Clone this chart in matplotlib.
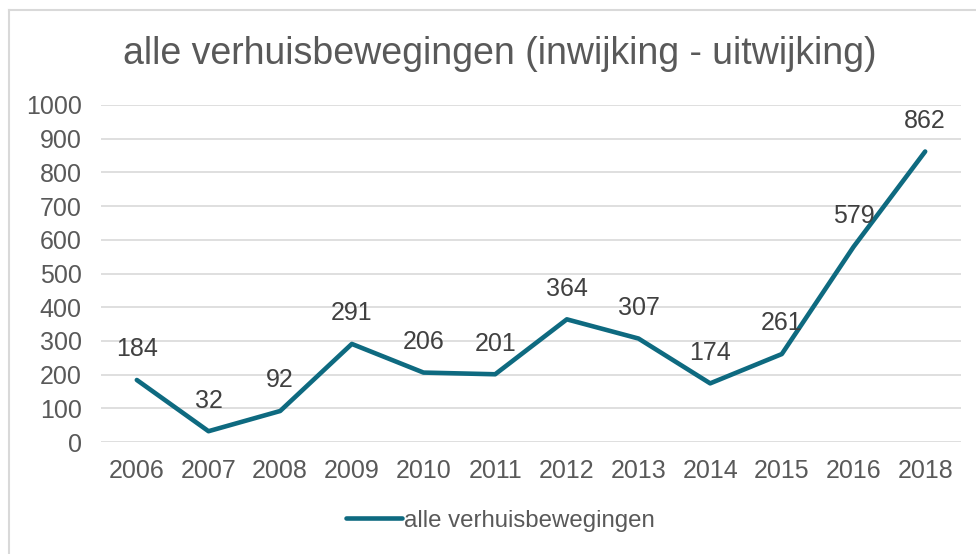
import matplotlib
matplotlib.use("Agg")
import matplotlib.pyplot as plt
from matplotlib.lines import Line2D

plt.rcParams['font.family'] = ['Liberation Sans', 'DejaVu Sans']

# data (note: no 2017 in the source)
years = ['2006', '2007', '2008', '2009', '2010', '2011',
         '2012', '2013', '2014', '2015', '2016', '2018']
saldo = [184, 32, 92, 291, 206, 201, 364, 307, 174, 261, 579, 862]
yticks = [0, 100, 200, 300, 400, 500, 600, 700, 800, 900, 1000]

line_col = '#0E6A80'
grid_col = '#D9D9D9'
txt_col = '#595959'
lbl_col = '#404040'

fig = plt.figure(figsize=(9.76, 5.54), dpi=100)
ax = fig.add_axes([101 / 976, 112 / 554, 860 / 976, 337 / 554])

x = list(range(len(years)))
ax.plot(x, saldo, color=line_col, lw=3.3, solid_capstyle='round',
        solid_joinstyle='round', label='alle verhuisbewegingen', zorder=3)

for xi, v in zip(x, saldo):
    ax.annotate(str(v), xy=(xi, v), xytext=(0, 22), textcoords='offset points',
                ha='center', va='center', fontsize=18, color=lbl_col)

ax.set_xlim(-0.5, len(years) - 0.5)
ax.set_ylim(0, 1000)
ax.set_xticks(x)
ax.set_xticklabels(years)
ax.set_yticks(yticks)
ax.tick_params(axis='both', length=0, labelsize=18, labelcolor=txt_col)
ax.tick_params(axis='x', pad=12)
ax.tick_params(axis='y', pad=14)
ax.yaxis.grid(True, color=grid_col, lw=1.2)
ax.set_axisbelow(True)
for s in ax.spines.values():
    s.set_visible(False)

fig.text(0.512, 0.903, 'alle verhuisbewegingen (inwijking - uitwijking)',
         ha='center', va='center', fontsize=27, color=txt_col)

leg = fig.legend(loc='center', bbox_to_anchor=(0.513, 0.06), frameon=False,
                 fontsize=17.3, handlelength=2.3, handletextpad=0.1)
for t in leg.get_texts():
    t.set_color(txt_col)

# chart frame (only left and top edges are visible in the crop)
fig.add_artist(Line2D([8.5 / 976, 8.5 / 976], [0, 1 - 10 / 554],
                      transform=fig.transFigure, color=grid_col, lw=1.5))
fig.add_artist(Line2D([8.5 / 976, 1], [1 - 10 / 554, 1 - 10 / 554],
                      transform=fig.transFigure, color=grid_col, lw=1.5))

fig.savefig('out.png', dpi=100)
